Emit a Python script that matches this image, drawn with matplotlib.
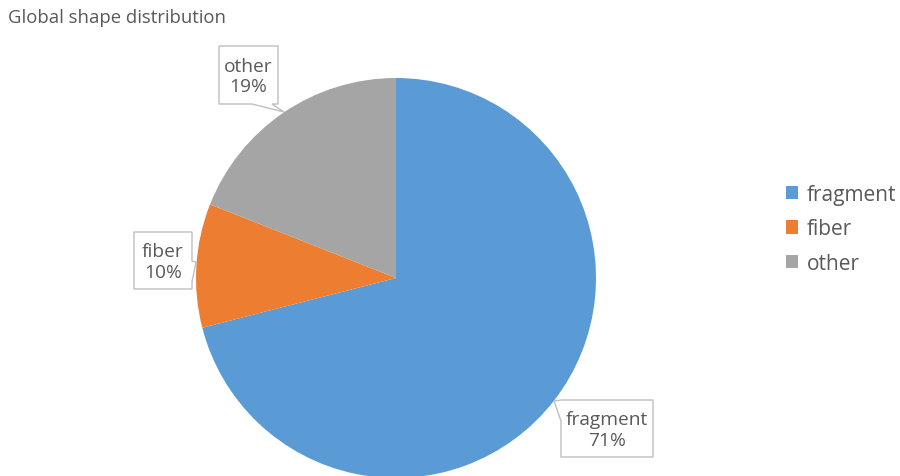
import numpy as np
import matplotlib
matplotlib.use('Agg')
import matplotlib.pyplot as plt
from matplotlib.patches import Polygon

plt.rcParams['font.family'] = ['Open Sans', 'DejaVu Sans']

## Data ==============================================
title = 'Global shape distribution'
shapes = ['fragment', 'fiber', 'other']
shares = [71, 10, 19]   # percent
colors = ['#5B9BD5', '#ED7D31', '#A5A5A5']
text_col = '#595959'

# callout boxes (left, top, right, bottom) and pointer (side, base start, base end, tip)
boxes = [(561, 401, 653, 458), (134, 233, 192, 290), (219, 47, 278, 105)]
pointers = [('left', 401, 422, (554, 402)),
            ('right', 262, 283, (196, 263)),
            ('bottom', 252, 272, (284, 113))]


def callout(box, ptr):
    # rectangle with a little triangular pointer sticking out of one side
    x0, y0, x1, y1 = box
    side, b0, b1, tip = ptr
    if side == 'left':
        pts = [(x0, y0), (x1, y0), (x1, y1), (x0, y1), (x0, b1), tip, (x0, b0)]
    elif side == 'right':
        pts = [(x0, y0), (x1, y0), (x1, b0), tip, (x1, b1), (x1, y1), (x0, y1)]
    else:
        pts = [(x0, y0), (x1, y0), (x1, y1), (b1, y1), tip, (b0, y1), (x0, y1)]
    return pts


## Figure ============================================
fig = plt.figure(figsize=(9, 4.77), dpi=100)
ax = fig.add_axes([0, 0, 1, 1])

# y axis flipped so positions read top-down
wedges, _ = ax.pie(shares, colors=colors, startangle=-90, counterclock=True,
                   center=(396, 279), radius=200, frame=True,
                   wedgeprops=dict(linewidth=0))
ax.set_xlim(0, 900)
ax.set_ylim(477, 0)
ax.axis('off')

for name, val, box, ptr in zip(shapes, shares, boxes, pointers):
    poly = Polygon(callout(box, ptr), closed=True, facecolor='white',
                   edgecolor='#BFBFBF', linewidth=1.0, zorder=3)
    ax.add_patch(poly)
    ax.text((box[0] + box[2]) / 2, (box[1] + box[3]) / 2 + 1,
            '%s\n%d%%' % (name, val), ha='center', va='center',
            fontsize=13.8, color=text_col, linespacing=1.2, zorder=4)

fig.text(0.009, 0.962, title, fontsize=13.3, color=text_col, va='center')

fig.legend(wedges, shapes, loc='center left', bbox_to_anchor=(0.873, 0.518),
           frameon=False, fontsize=15, handlelength=0.6, handleheight=0.6,
           handletextpad=0.4, labelspacing=0.66, labelcolor=text_col,
           borderpad=0, borderaxespad=0)

fig.savefig('out.png', dpi=100)
